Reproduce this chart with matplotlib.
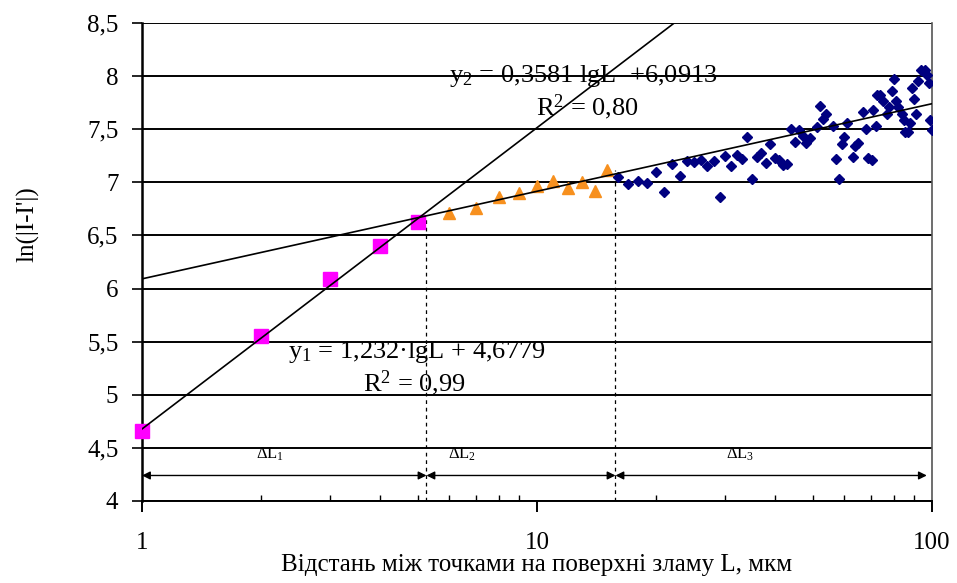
import matplotlib.pyplot as plt
import numpy as np
from matplotlib.ticker import FuncFormatter, LogLocator, NullFormatter

plt.rcParams['font.family'] = ['Liberation Serif', 'DejaVu Serif']
plt.rcParams['mathtext.fontset'] = 'custom'
plt.rcParams['mathtext.rm'] = 'Liberation Serif'
plt.rcParams['mathtext.it'] = 'Liberation Serif'
plt.rcParams['mathtext.default'] = 'rm'

# data
L_1 = [1, 2, 3, 4, 5]
y_1 = [4.66, 5.55, 6.09, 6.40, 6.63]

L_2 = [6, 7, 8, 9, 10, 11, 12, 13, 14, 15]
y_2 = [6.71, 6.76, 6.86, 6.90, 6.97, 7.01, 6.95, 7.00, 6.92, 7.12]

L_3 = [16, 17, 18, 19, 20, 21, 22, 23, 24, 25, 26, 27, 28, 29, 30, 31, 32, 33,
       34, 35, 36, 37, 38, 39, 40, 41, 42, 43, 44, 45, 46, 47, 48, 49, 51, 52,
       53, 54, 56, 57, 58, 59, 60, 61, 63, 64, 65, 67, 68, 69, 70.5, 71, 72,
       72.5, 74, 75, 77, 78, 79, 80, 81, 82, 84, 85, 85.5, 87, 88, 89, 90, 91,
       92, 94, 96, 97, 98, 99, 100]
y_3 = [7.05, 6.98, 7.01, 6.99, 7.10, 6.91, 7.17, 7.06, 7.20, 7.19, 7.21, 7.15,
       7.20, 6.86, 7.25, 7.15, 7.26, 7.22, 7.43, 7.03, 7.24, 7.28, 7.18, 7.36,
       7.23, 7.21, 7.16, 7.17, 7.50, 7.38, 7.49, 7.44, 7.37, 7.42, 7.52, 7.72,
       7.60, 7.64, 7.53, 7.22, 7.03, 7.36, 7.43, 7.56, 7.24, 7.34, 7.37, 7.66,
       7.50, 7.23, 7.21, 7.68, 7.53, 7.82, 7.82, 7.77, 7.64, 7.71, 7.86, 7.97,
       7.77, 7.71, 7.64, 7.59, 7.47, 7.47, 7.56, 7.89, 7.78, 7.64, 7.95, 8.06,
       8.06, 8.01, 7.94, 7.59, 7.49]

# trend lines  y = a*ln(L) + b
a1, b1 = 1.232, 4.6779
a2, b2 = 0.3581, 6.0913

# interval borders
borders = [1, 5.25, 15.8, 97]
border_tops = [6.68, 7.12]

fig = plt.figure(figsize=(9.57, 5.83), dpi=100)
ax = fig.add_axes([0.1484, 0.1407, 0.8255, 0.8198])

ax.set_xscale('log')
ax.set_xlim(1, 100)
ax.set_ylim(4, 8.5)

yt = np.arange(4, 8.51, 0.5)
for v in yt:
    ax.axhline(v, color='black', lw=1.4, zorder=1)

ax.plot(L_1, y_1, 's', color='#FF00FF', ms=10, zorder=3, clip_on=False)
ax.plot(L_2, y_2, '^', color='#F7901E', ms=9, zorder=3)
ax.plot(L_3, y_3, 'D', color='#000080', ms=5.5, zorder=3)

xx = np.logspace(0, 2, 300)
ax.plot(xx, a1 * np.log(xx) + b1, color='black', lw=1.2, zorder=4)
ax.plot(xx, a2 * np.log(xx) + b2, color='black', lw=1.2, zorder=4)

ax.vlines(borders[1:3], 4, border_tops, colors='black', lw=0.9,
          linestyles=(0, (3, 3)), zorder=2)

for i in range(3):
    ax.annotate('', xy=(borders[i + 1], 4.24), xytext=(borders[i], 4.24),
                arrowprops=dict(arrowstyle='<|-|>', color='black', lw=1.0,
                                mutation_scale=12, shrinkA=0, shrinkB=0))
ax.text(2.11, 4.44, r'$\Delta$L$_1$', fontsize=12, ha='center', va='center')
ax.text(6.46, 4.44, r'$\Delta$L$_2$', fontsize=12, ha='center', va='center')
ax.text(32.6, 4.44, r'$\Delta$L$_3$', fontsize=12, ha='center', va='center')

ax.text(6.0, 8.0, 'y$_2$ = 0,3581 lgL  +6,0913', fontsize=19, va='center', ha='left')
ax.text(13.4, 7.71, 'R$^2$ = 0,80', fontsize=19, va='center', ha='center')
ax.text(2.34, 5.40, 'y$_1$ = 1,232·lgL + 4,6779', fontsize=19, va='center', ha='left')
ax.text(4.9, 5.11, 'R$^2$ = 0,99', fontsize=19, va='center', ha='center')

ax.set_yticks(yt)
ax.yaxis.set_major_formatter(FuncFormatter(lambda v, p: ('%g' % v).replace('.', ',')))
ax.xaxis.set_major_locator(LogLocator(base=10, numticks=5))
ax.xaxis.set_major_formatter(FuncFormatter(lambda v, p: '%g' % v))
ax.xaxis.set_minor_locator(LogLocator(base=10, subs=np.arange(2, 10), numticks=20))
ax.xaxis.set_minor_formatter(NullFormatter())

ax.tick_params(axis='y', direction='out', length=7, width=1.2, pad=10, labelsize=18)
ax.tick_params(axis='x', which='major', direction='out', length=8, width=1.4,
               pad=14, labelsize=18)
ax.tick_params(axis='x', which='minor', direction='in', length=4, width=1.0)

ax.spines['left'].set_linewidth(1.8)
ax.spines['bottom'].set_linewidth(1.4)
ax.spines['top'].set_visible(False)
ax.spines['right'].set_color('#555555')
ax.spines['right'].set_linewidth(1.2)

ax.set_xlabel('Відстань між точками на поверхні зламу L, мкм', fontsize=18, labelpad=0)
ax.set_ylabel("ln(|I-I'|)", fontsize=18)
ax.yaxis.set_label_coords(-0.13, 0.58)

plt.savefig('out.png', dpi=100)
